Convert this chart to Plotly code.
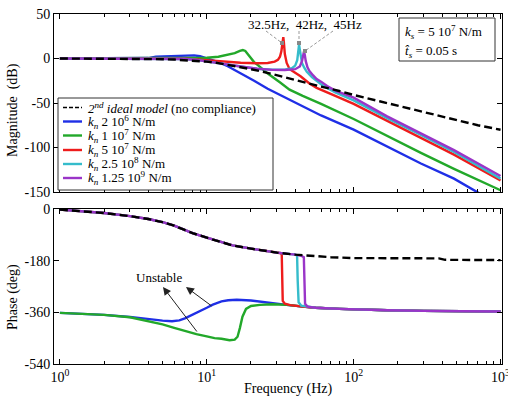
import plotly.graph_objects as go

FONT = "Liberation Serif, Times New Roman, serif"

# ---------------- data ----------------
# Magnitude (dB) vs frequency (Hz)
f_ideal_mag = [1, 2, 3, 4, 5, 6, 7, 8, 10, 12, 15, 20, 25, 30, 40, 50, 60, 80, 100, 150, 200, 300, 500, 700, 1000]
ideal_mag = [0, -0.1, -0.3, -0.5, -0.8, -1.2, -1.7, -2.2, -3.5, -5.2, -8, -12, -15.5, -19, -24, -28, -31.5, -36.5, -41, -48, -53, -60, -69, -75, -80]

f_k1_mag = [1, 3, 4, 4.5, 6, 7.5, 8.2, 9, 10, 11, 12.4, 14, 16, 18, 21, 26, 30, 35, 45, 60, 100, 169, 287, 482, 681, 800]
k1_mag = [0, 0.2, 0.5, 2, 2.5, 3, 3.5, 2.5, 0, -2, -5, -9, -14, -19, -25, -34, -39, -45, -54, -64, -80, -99, -118, -135, -150, -156]

f_k2_mag = [1, 5, 8, 10, 12, 14, 15.5, 16.8, 17.6, 18.3, 19, 20, 21, 22.5, 25.6, 31.6, 36.6, 45, 60, 100, 169, 287, 482, 1000]
k2_mag = [0, 0, 0.3, 0.8, 2, 4, 6, 8.5, 9.5, 8.5, 5, 0, -4, -8, -16, -27, -35, -42, -51, -68, -87, -106, -124, -148]

f_k3_mag = [1, 3, 5, 7, 8.5, 10, 13, 17, 22, 26, 29, 30.5, 31.5, 32.2, 32.7, 33.0, 33.2, 33.5, 34, 35, 36.7, 43.5, 50, 56, 60, 75, 100, 169, 287, 482, 1000]
k3_mag = [0, 0, 0, -0.3, -1, -2, -3.5, -4.8, -5.3, -5, -3.5, -1.5, 2, 8, 16, 22, 24, 18, 5, -5, -12, -20, -28, -33, -35, -42, -51, -70, -89, -108, -137]

f_k4_mag = [1, 3, 5, 7, 8.5, 10, 13, 17, 22, 28, 34, 38, 40, 41.3, 42.0, 42.5, 43.0, 43.6, 44.5, 46, 48, 52, 56, 60, 66, 75, 100, 169, 287, 482, 1000]
k4_mag = [0, 0, 0, -0.5, -1.5, -3, -6, -9, -11.5, -12.5, -12.5, -11, -8, -2, 8, 15.5, 10, 2, -5, -10, -15, -21, -25, -29, -33, -38, -47, -67, -86, -105, -135]

f_k5_mag = [1, 3, 5, 7, 8.5, 10, 13, 17, 22, 28, 34, 40, 43, 44.5, 45.3, 45.9, 46.5, 47.2, 48.5, 50, 53, 56, 60, 66, 75, 100, 169, 287, 482, 1000]
k5_mag = [0, 0, 0, -0.5, -1.5, -3, -6, -9, -11.5, -12.8, -13, -12, -9, -3, 3, 8, 4, -3, -10, -14, -19, -23, -26, -31, -36, -44, -65, -84, -103, -132]

# Phase (deg) vs frequency (Hz)
f_ideal_ph = [1, 1.5, 2, 3, 4, 5, 6, 7, 8, 10, 12, 15, 20, 25, 30, 40, 50, 70, 100, 200, 380, 420, 1000]
ideal_ph = [-2, -8, -14, -25, -35, -46, -58, -72, -84, -100, -113, -127, -138, -146, -152, -159, -163, -168, -171, -171, -172, -177, -178]

f_k1_ph = [1, 2, 3, 4, 5, 5.8, 6.5, 7.1, 8, 9, 10, 11, 12.6, 14, 16, 20, 25, 28.5, 35, 45, 55, 80, 120, 170, 300, 600, 1000]
k1_ph = [-362, -369, -376, -384, -389, -391, -388, -381, -369, -355, -344, -333, -322, -318, -316, -319, -324, -328, -334, -340, -344, -348, -351, -353, -355, -356, -357]

f_k2_ph = [1, 2, 3, 4.1, 5, 6, 7, 8.5, 10, 11.3, 12.6, 14.3, 15.5, 16.2, 16.8, 17.5, 18.5, 20, 23, 28, 35, 45, 55, 80, 120, 170, 300, 600, 1000]
k2_ph = [-362, -369, -377, -392, -402, -414, -424, -436, -444, -450, -452, -457, -455, -445, -415, -375, -348, -338, -334, -332, -334, -340, -344, -348, -351, -353, -355, -356, -357]

f_k3_ph = [1, 1.5, 2, 3, 4, 5, 6, 7, 8, 10, 12, 15, 20, 25, 30, 32, 32.4, 32.6, 32.9, 34, 37, 45, 55, 80, 120, 170, 300, 600, 1000]
k3_ph = [-2, -8, -14, -25, -35, -46, -58, -72, -84, -100, -113, -127, -138, -146, -152, -154, -160, -250, -320, -330, -335, -340, -344, -348, -351, -353, -355, -356, -357]

f_k4_ph = [1, 1.5, 2, 3, 4, 5, 6, 7, 8, 10, 12, 15, 20, 25, 30, 40, 41.2, 41.6, 42.2, 44, 50, 55, 80, 120, 170, 300, 600, 1000]
k4_ph = [-2, -8, -14, -25, -35, -46, -58, -72, -84, -100, -113, -127, -138, -146, -152, -159, -162, -250, -325, -337, -341, -344, -348, -351, -353, -355, -356, -357]

f_k5_ph = [1, 1.5, 2, 3, 4, 5, 6, 7, 8, 10, 12, 15, 20, 25, 30, 40, 44, 45.8, 46.2, 46.7, 48.5, 52, 55, 80, 120, 170, 300, 600, 1000]
k5_ph = [-2, -8, -14, -25, -35, -46, -58, -72, -84, -100, -113, -127, -138, -146, -152, -159, -163, -168, -250, -330, -340, -343, -344, -348, -351, -353, -355, -356, -357]

legend_labels = [
    "<i>2<sup>nd</sup> ideal model</i> (no compliance)",
    "<i>k<sub>n</sub></i> 2 10<sup>6</sup> N/m",
    "<i>k<sub>n</sub></i> 1 10<sup>7</sup> N/m",
    "<i>k<sub>n</sub></i> 5 10<sup>7</sup> N/m",
    "<i>k<sub>n</sub></i> 2.5 10<sup>8</sup> N/m",
    "<i>k<sub>n</sub></i> 1.25 10<sup>9</sup> N/m",
]
colors = ["#1f2fe6", "#22a82a", "#ee1c1c", "#35bccb", "#9a35c8"]

mag_x = [f_k1_mag, f_k2_mag, f_k3_mag, f_k4_mag, f_k5_mag]
mag_y = [k1_mag, k2_mag, k3_mag, k4_mag, k5_mag]
ph_x = [f_k1_ph, f_k2_ph, f_k3_ph, f_k4_ph, f_k5_ph]
ph_y = [k1_ph, k2_ph, k3_ph, k4_ph, k5_ph]

x_ticks = [1, 10, 100, 1000]
x_ticktext = ["10<sup>0</sup>", "10<sup>1</sup>", "10<sup>2</sup>", "10<sup>3</sup>"]
x_minor = [m * d for d in (1, 10, 100) for m in range(2, 10)]
mag_ticks = [-150, -100, -50, 0, 50]
ph_ticks = [-540, -360, -180, 0]

# ---------------- figure ----------------
W, H = 508, 406
ML, MR, MT, MB = 54, 6, 14, 42
PW, PH = W - ML - MR, H - MT - MB


def px(x):
    return (x - ML) / PW


def py(y):
    return (H - MB - y) / PH


fig = go.Figure()

for i in range(5):
    fig.add_trace(go.Scatter(x=mag_x[i], y=mag_y[i], mode="lines", xaxis="x", yaxis="y",
                             line=dict(color=colors[i], width=2.4), showlegend=False))
fig.add_trace(go.Scatter(x=f_ideal_mag, y=ideal_mag, mode="lines", xaxis="x", yaxis="y",
                         line=dict(color="black", width=2.4, dash="8px,4px"), showlegend=False))
for i in range(5):
    fig.add_trace(go.Scatter(x=ph_x[i], y=ph_y[i], mode="lines", xaxis="x2", yaxis="y2",
                             line=dict(color=colors[i], width=2.4), showlegend=False))
fig.add_trace(go.Scatter(x=f_ideal_ph, y=ideal_ph, mode="lines", xaxis="x2", yaxis="y2",
                         line=dict(color="black", width=2.4, dash="8px,4px"), showlegend=False))

axis_common = dict(showgrid=False, zeroline=False, showline=True, linecolor="black", linewidth=1,
                   mirror="allticks", ticks="inside", ticklen=5, tickcolor="black", automargin=False,
                   tickfont=dict(family=FONT, size=14, color="black"))
xcommon = dict(axis_common, type="log", range=[-0.04, 3.01], tickvals=x_ticks, ticktext=x_ticktext,
               minor=dict(tickvals=x_minor, ticks="inside", ticklen=3, tickcolor="black", showgrid=False))

top_bottom = py(192)
bot_top = py(209)

fig.update_layout(
    width=W, height=H, margin=dict(l=ML, r=MR, t=MT, b=MB, autoexpand=False),
    paper_bgcolor="white", plot_bgcolor="white",
    font=dict(family=FONT, size=13, color="black"),
    xaxis=dict(xcommon, anchor="y", domain=[0, 1], showticklabels=False),
    yaxis=dict(axis_common, anchor="x", domain=[top_bottom, 1], range=[-150, 50],
               tickvals=mag_ticks, ticktext=[str(v) for v in mag_ticks]),
    xaxis2=dict(xcommon, anchor="y2", domain=[0, 1], ticklabeloverflow="allow"),
    yaxis2=dict(axis_common, anchor="x2", domain=[0, bot_top], range=[-540, 0],
                tickvals=ph_ticks, ticktext=[str(v) for v in ph_ticks]),
    showlegend=False,
)

shapes = []
annotations = []

# legend box
shapes.append(dict(type="rect", xref="paper", yref="paper", x0=px(58), x1=px(273), y0=py(190), y1=py(98),
                   line=dict(color="#333", width=1), fillcolor="white", layer="above"))
rows = [107.5, 121.5, 135.5, 150, 164, 178]
shapes.append(dict(type="line", xref="paper", yref="paper", x0=px(63), x1=px(82), y0=py(rows[0]), y1=py(rows[0]),
                   line=dict(color="black", width=1.3, dash="4px,2px"), layer="above"))
for i in range(5):
    shapes.append(dict(type="line", xref="paper", yref="paper", x0=px(63), x1=px(82), y0=py(rows[i + 1]),
                       y1=py(rows[i + 1]), line=dict(color=colors[i], width=2.4), layer="above"))
for lab, r in zip(legend_labels, rows):
    annotations.append(dict(text=lab, xref="paper", yref="paper", x=px(86), y=py(r), xanchor="left",
                            yanchor="middle", showarrow=False, font=dict(size=13)))

# parameter box
shapes.append(dict(type="rect", xref="paper", yref="paper", x0=px(399), x1=px(495), y0=py(61), y1=py(18),
                   line=dict(color="#333", width=1), fillcolor="white", layer="above"))
annotations.append(dict(text="<i>k<sub>s</sub></i> = 5 10<sup>7</sup> N/m", xref="paper", yref="paper",
                        x=px(403), y=py(32), xanchor="left", yanchor="middle", showarrow=False, font=dict(size=13)))
annotations.append(dict(text="<i>t\u0302<sub>s</sub></i> = 0.05 s", xref="paper", yref="paper",
                        x=px(403), y=py(52), xanchor="left", yanchor="middle", showarrow=False, font=dict(size=13)))

# resonance labels and leaders
annotations.append(dict(text="32.5Hz,  42Hz,  45Hz", xref="paper", yref="paper", x=px(305), y=py(24),
                        xanchor="center", yanchor="middle", showarrow=False, font=dict(size=13)))
for (x0, y0, x1, y1) in [(266, 31, 282, 43), (299, 31, 299, 43), (333, 31, 305, 51)]:
    shapes.append(dict(type="line", xref="paper", yref="paper", x0=px(x0), y0=py(y0), x1=px(x1), y1=py(y1),
                       line=dict(color="#999", width=1, dash="3px,2px"), layer="above"))
for (mx, my) in [(282, 43), (299, 43), (305, 51)]:
    shapes.append(dict(type="rect", xref="paper", yref="paper", x0=px(mx - 2), x1=px(mx + 2), y0=py(my + 2),
                       y1=py(my - 2), line=dict(width=0), fillcolor="#888", layer="above"))

# Unstable
annotations.append(dict(text="Unstable", xref="paper", yref="paper", x=px(159), y=py(277), xanchor="center",
                        yanchor="middle", showarrow=False, font=dict(size=13)))
for (hx, hy, tx, ty) in [(163, 287, 198, 333), (186, 287, 213, 307)]:
    annotations.append(dict(text="", xref="paper", yref="paper", x=px(hx), y=py(hy), ax=tx - hx, ay=ty - hy,
                            showarrow=True, arrowhead=2, arrowsize=1.6, arrowwidth=1, arrowcolor="#222"))

# axis titles
annotations.append(dict(text="Magnitude  (dB)", xref="paper", yref="paper", x=px(13), y=py(110),
                        textangle=-90, showarrow=False, font=dict(size=14), xanchor="center", yanchor="middle"))
annotations.append(dict(text="Phase (deg)", xref="paper", yref="paper", x=px(13), y=py(297),
                        textangle=-90, showarrow=False, font=dict(size=14), xanchor="center", yanchor="middle"))
annotations.append(dict(text="Frequency (Hz)", xref="paper", yref="paper", x=px(288), y=py(389),
                        showarrow=False, font=dict(size=14), xanchor="center", yanchor="middle"))

fig.update_layout(shapes=shapes, annotations=annotations)
fig.write_html("out.html")
